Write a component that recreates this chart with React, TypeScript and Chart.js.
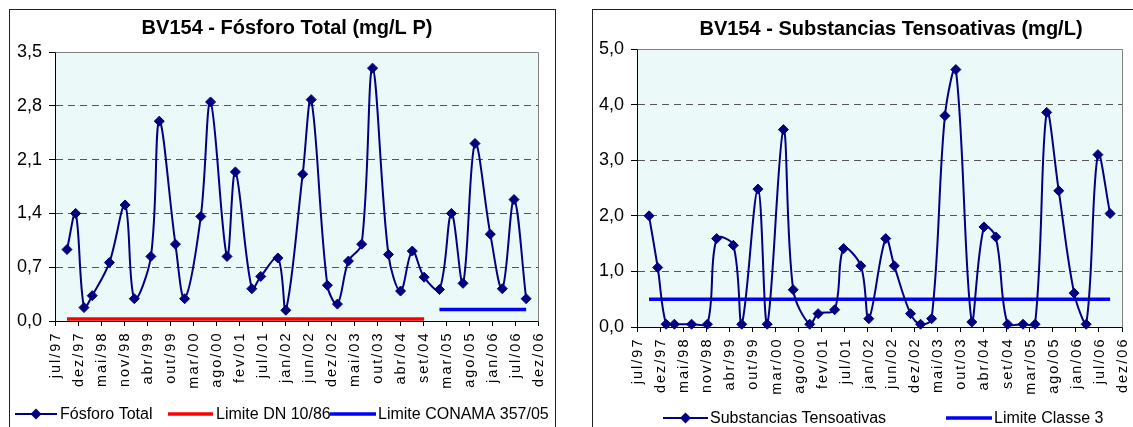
import { useEffect, useRef } from "react";
import { Chart, registerables } from "chart.js";

Chart.register(...registerables);

const FONT = "'Liberation Sans', Arial, Helvetica, sans-serif";

// Sampling dates, in days counted from 01/jul/1997 (start of the time axis)
const sampleDays = [
  86, 148, 208, 267, 390, 503, 569, 688, 748, 864, 930, 1046, 1116, 1234, 1294, 1412, 1476, 1599, 1656,
  1777, 1838, 1954, 2026, 2105, 2200, 2278, 2392, 2479, 2563, 2648, 2758, 2844, 2927, 3013, 3123, 3209,
  3293, 3380,
];

const fosforoTotal = [
  0.93, 1.4, 0.175, 0.33, 0.76, 1.51, 0.29, 0.84, 2.6, 1.0, 0.29, 1.36, 2.85, 0.84, 1.94, 0.42, 0.58, 0.82,
  0.14, 1.91, 2.88, 0.465, 0.22, 0.78, 1.0, 3.29, 0.865, 0.39, 0.91, 0.57, 0.41, 1.4, 0.49, 2.31, 1.13, 0.42,
  1.58, 0.29,
];

const limiteDN1086: (number | null)[] = [
  0.025, 0.025, 0.025, 0.025, 0.025, 0.025, 0.025, 0.025, 0.025, 0.025, 0.025, 0.025, 0.025, 0.025, 0.025,
  0.025, 0.025, 0.025, 0.025, 0.025, 0.025, 0.025, 0.025, 0.025, 0.025, 0.025, 0.025, 0.025, 0.025, 0.025,
  null, null, null, null, null, null, null, null,
];

const limiteConama35705: (number | null)[] = [
  null, null, null, null, null, null, null, null, null, null, null, null, null, null, null, null, null, null,
  null, null, null, null, null, null, null, null, null, null, null, null, 0.15, 0.15, 0.15, 0.15, 0.15, 0.15,
  0.15, 0.15,
];

const substanciasTensoativas = [
  2.0, 1.07, 0.05, 0.05, 0.05, 0.05, 1.59, 1.47, 0.05, 2.48, 0.05, 3.55, 0.67, 0.05, 0.24, 0.31, 1.41, 1.1,
  0.15, 1.59, 1.1, 0.24, 0.05, 0.15, 3.8, 4.63, 0.09, 1.8, 1.62, 0.05, 0.05, 0.05, 3.86, 2.45, 0.61, 0.05,
  3.1, 2.04,
];

const limiteClasse3 = [
  0.5, 0.5, 0.5, 0.5, 0.5, 0.5, 0.5, 0.5, 0.5, 0.5, 0.5, 0.5, 0.5, 0.5, 0.5, 0.5, 0.5, 0.5, 0.5, 0.5, 0.5,
  0.5, 0.5, 0.5, 0.5, 0.5, 0.5, 0.5, 0.5, 0.5, 0.5, 0.5, 0.5, 0.5, 0.5, 0.5, 0.5, 0.5,
];

const xTickLabels = [
  "jul/97", "dez/97", "mai/98", "nov/98", "abr/99", "out/99", "mar/00", "ago/00", "fev/01", "jul/01", "jan/02",
  "jun/02", "dez/02", "mai/03", "out/03", "abr/04", "set/04", "mar/05", "ago/05", "jan/06", "jul/06", "dez/06",
];
const xTickStepDays = 165;

const fosforoYTicks = [0, 0.7, 1.4, 2.1, 2.8, 3.5];
const tensoYTicks = [0, 1, 2, 3, 4, 5];

type LegendItem = { label: string; color: string; lineWidth: number; marker: boolean; x0: number; x1: number; tx: number };

type Spec = {
  left: number;
  top: number;
  width: number;
  height: number;
  padding: { left: number; top: number; right: number; bottom: number };
  yWidth: number;
  xHeight: number;
  title: string;
  titleX: number;
  titleY: number;
  yTicks: number[];
  datasets: any[];
  legend: LegendItem[];
  legendY: number;
};

const pts = (vals: (number | null)[]) => sampleDays.map((d, i) => ({ x: d, y: vals[i] }));

const mainSeries = (label: string, vals: number[]) => ({
  label,
  data: pts(vals),
  borderColor: "#000080",
  backgroundColor: "#000080",
  borderWidth: 2,
  pointStyle: "rectRot",
  pointRadius: 5,
  pointBorderWidth: 1,
  pointBorderColor: "#000080",
  pointBackgroundColor: "#000080",
  tension: 0.35,
  clip: false,
});

const limitSeries = (label: string, vals: (number | null)[], color: string) => ({
  label,
  data: pts(vals),
  borderColor: color,
  backgroundColor: color,
  borderWidth: 3.5,
  pointRadius: 0,
  tension: 0,
  spanGaps: false,
});

function decorPlugin(spec: Spec) {
  return {
    id: "decor",
    beforeDraw(chart: any) {
      const { ctx, chartArea: a } = chart;
      ctx.save();
      ctx.fillStyle = "#ebf9f9";
      ctx.fillRect(a.left, a.top, a.right - a.left, a.bottom - a.top);
      ctx.restore();
    },
    beforeDatasetsDraw(chart: any) {
      const { ctx, chartArea: a } = chart;
      ctx.save();
      ctx.strokeStyle = "#808080";
      ctx.lineWidth = 1;
      ctx.beginPath();
      const l = Math.round(a.left - 0.5) + 0.5;
      const t = Math.round(a.top - 0.5) + 0.5;
      const r = Math.round(a.right - 0.5) + 0.5;
      const b = Math.round(a.bottom - 0.5) + 0.5;
      ctx.moveTo(l, t);
      ctx.lineTo(r, t);
      ctx.lineTo(r, b);
      ctx.stroke();
      ctx.restore();
    },
    afterDraw(chart: any) {
      const { ctx, chartArea: a } = chart;
      const xs = chart.scales.x;
      // title
      ctx.save();
      ctx.fillStyle = "#000";
      ctx.font = `bold 20px ${FONT}`;
      ctx.textAlign = "center";
      ctx.textBaseline = "alphabetic";
      ctx.fillText(spec.title, spec.titleX, spec.titleY);
      ctx.restore();
      // x tick labels (vertical)
      ctx.save();
      ctx.fillStyle = "#000";
      ctx.font = `14.5px ${FONT}`;
      (ctx as any).letterSpacing = "2px";
      ctx.textAlign = "right";
      ctx.textBaseline = "middle";
      xTickLabels.forEach((lab, i) => {
        const px = xs.getPixelForValue(i * xTickStepDays);
        ctx.save();
        ctx.translate(px + 1, a.bottom + 10.5);
        ctx.rotate(-Math.PI / 2);
        ctx.fillText(lab, 0, 0);
        ctx.restore();
      });
      ctx.restore();
      // legend
      ctx.save();
      spec.legend.forEach((it) => {
        ctx.strokeStyle = it.color;
        ctx.lineWidth = it.lineWidth;
        ctx.beginPath();
        ctx.moveTo(it.x0, spec.legendY);
        ctx.lineTo(it.x1, spec.legendY);
        ctx.stroke();
        if (it.marker) {
          const cx = (it.x0 + it.x1) / 2;
          const r = 5.5;
          ctx.fillStyle = it.color;
          ctx.beginPath();
          ctx.moveTo(cx - r, spec.legendY);
          ctx.lineTo(cx, spec.legendY - r);
          ctx.lineTo(cx + r, spec.legendY);
          ctx.lineTo(cx, spec.legendY + r);
          ctx.closePath();
          ctx.fill();
        }
        ctx.fillStyle = "#000";
        ctx.font = `16px ${FONT}`;
        ctx.textAlign = "left";
        ctx.textBaseline = "middle";
        ctx.fillText(it.label, it.tx, spec.legendY + 1);
      });
      ctx.restore();
    },
  };
}

function buildConfig(spec: Spec): any {
  const yMax = spec.yTicks[spec.yTicks.length - 1];
  return {
    type: "line",
    data: { datasets: spec.datasets },
    options: {
      animation: false,
      responsive: false,
      devicePixelRatio: 1,
      layout: { padding: spec.padding },
      plugins: { legend: { display: false }, title: { display: false }, tooltip: { enabled: false } },
      scales: {
        x: {
          type: "linear",
          min: 0,
          max: (xTickLabels.length - 1) * xTickStepDays,
          afterBuildTicks: (s: any) => {
            s.ticks = xTickLabels.map((_, i) => ({ value: i * xTickStepDays }));
          },
          afterFit: (s: any) => {
            s.height = spec.xHeight;
          },
          ticks: { display: false },
          grid: {
            drawOnChartArea: false,
            drawTicks: true,
            tickLength: 5,
            tickColor: "#000",
            tickWidth: 1,
            color: "#000",
          },
          border: { display: true, color: "#000", width: 1 },
        },
        y: {
          type: "linear",
          min: 0,
          max: yMax,
          afterBuildTicks: (s: any) => {
            s.ticks = spec.yTicks.map((v) => ({ value: v }));
          },
          afterFit: (s: any) => {
            s.width = spec.yWidth;
          },
          ticks: {
            color: "#000",
            font: { size: 18, family: FONT },
            padding: 7,
            callback: (v: number) => Number(v).toFixed(1).replace(".", ","),
          },
          grid: {
            drawOnChartArea: true,
            drawTicks: true,
            tickLength: 6,
            tickColor: "#000",
            tickWidth: 1,
            tickBorderDash: [],
            lineWidth: 1,
            color: (c: any) =>
              c.tick && (c.tick.value === 0 || Math.abs(c.tick.value - yMax) < 1e-9) ? "rgba(0,0,0,0)" : "#555",
          },
          border: { display: true, color: "#000", width: 1, dash: [7, 5] },
        },
      },
    },
    plugins: [decorPlugin(spec)],
  };
}

const leftSpec: Spec = {
  left: 10,
  top: 10,
  width: 545,
  height: 417,
  padding: { left: 0, top: 42, right: 17, bottom: 86 },
  yWidth: 45,
  xHeight: 20,
  title: "BV154 - Fósforo Total (mg/L P)",
  titleX: 277,
  titleY: 23.5,
  yTicks: fosforoYTicks,
  datasets: [
    mainSeries("Fósforo Total", fosforoTotal),
    limitSeries("Limite DN 10/86", limiteDN1086, "#ff0000"),
    limitSeries("Limite CONAMA 357/05", limiteConama35705, "#0000ff"),
  ],
  legend: [
    { label: "Fósforo Total", color: "#000080", lineWidth: 2, marker: true, x0: 5, x1: 47, tx: 50 },
    { label: "Limite DN 10/86", color: "#ff0000", lineWidth: 3.5, marker: false, x0: 158, x1: 203, tx: 206 },
    { label: "Limite CONAMA 357/05", color: "#0000ff", lineWidth: 3.5, marker: false, x0: 320, x1: 366, tx: 368 },
  ],
  legendY: 404,
};

const rightSpec: Spec = {
  left: 593,
  top: 10,
  width: 540,
  height: 417,
  padding: { left: 0, top: 39, right: 11, bottom: 80 },
  yWidth: 44,
  xHeight: 20,
  title: "BV154 - Substancias Tensoativas (mg/L)",
  titleX: 298,
  titleY: 24.5,
  yTicks: tensoYTicks,
  datasets: [
    mainSeries("Substancias Tensoativas", substanciasTensoativas),
    limitSeries("Limite Classe 3", limiteClasse3, "#0000ff"),
  ],
  legend: [
    { label: "Substancias Tensoativas", color: "#000080", lineWidth: 2, marker: true, x0: 70, x1: 115, tx: 117 },
    { label: "Limite Classe 3", color: "#0000ff", lineWidth: 3.5, marker: false, x0: 353, x1: 399, tx: 401 },
  ],
  legendY: 408,
};

function ChartCanvas({ spec }: { spec: Spec }) {
  const ref = useRef<HTMLCanvasElement>(null);
  useEffect(() => {
    if (!ref.current) return;
    const chart = new Chart(ref.current, buildConfig(spec));
    return () => chart.destroy();
  }, [spec]);
  return (
    <canvas
      ref={ref}
      width={spec.width}
      height={spec.height}
      style={{ position: "absolute", left: spec.left, top: spec.top, width: spec.width, height: spec.height }}
    />
  );
}

export default function App() {
  return (
    <div
      style={{
        position: "fixed",
        left: 0,
        top: 0,
        width: 1133,
        height: 427,
        overflow: "hidden",
        background: "#fff",
      }}
    >
      <div
        style={{
          position: "absolute",
          left: 9,
          top: 9,
          width: 547,
          height: 440,
          boxSizing: "border-box",
          border: "1px solid #222",
        }}
      />
      <div
        style={{
          position: "absolute",
          left: 592,
          top: 9,
          width: 560,
          height: 440,
          boxSizing: "border-box",
          border: "1px solid #222",
        }}
      />
      <ChartCanvas spec={leftSpec} />
      <ChartCanvas spec={rightSpec} />
    </div>
  );
}
